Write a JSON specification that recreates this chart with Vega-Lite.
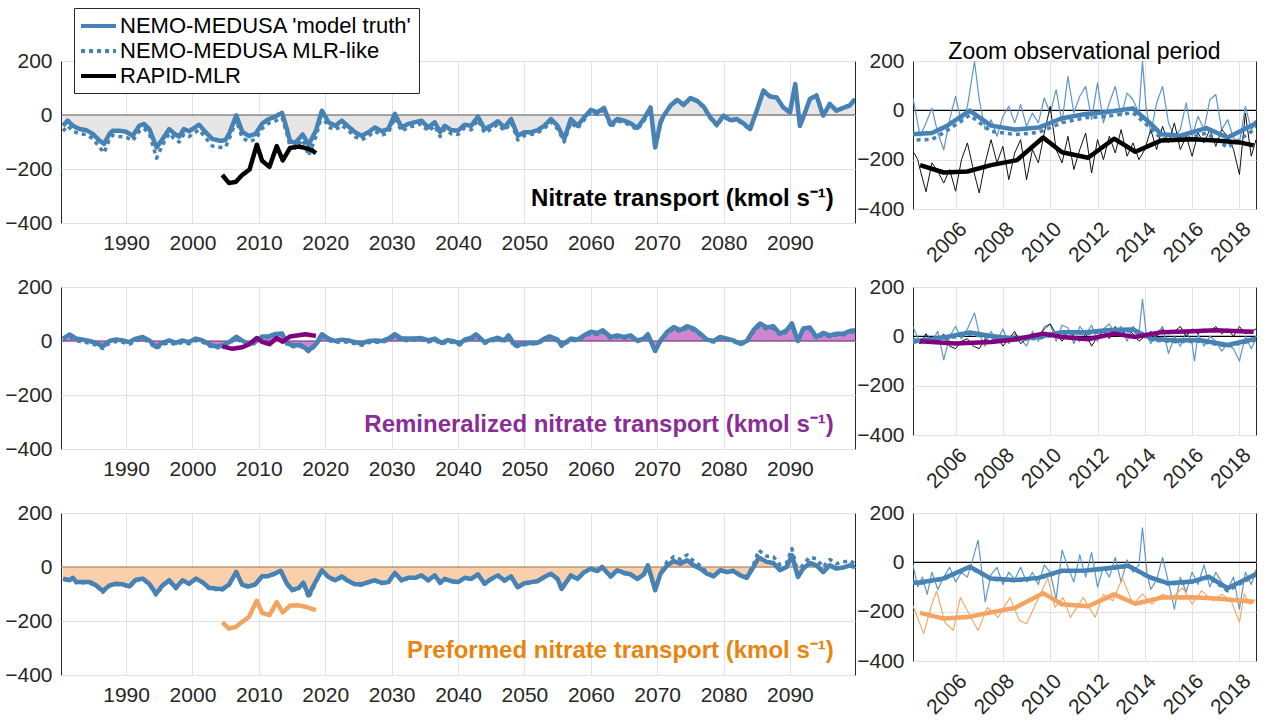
{
"$schema": "https://vega.github.io/schema/vega-lite/v6.json",
"padding": {"left": 4, "top": 7, "right": 4, "bottom": 4},
"background": "white",
"config": {
  "font": "Liberation Sans",
  "view": {"stroke": "#262626", "strokeWidth": 1},
  "axis": {"labelFontSize": 21, "labelColor": "#262626", "ticks": false, "domain": false, "gridColor": "#e2e2e2", "gridWidth": 1, "labelPadding": 9},
  "line": {"strokeCap": "butt", "strokeJoin": "round"}
},
"datasets": {
"N": [
{"s":"truth","t":1980.5,"v":-40},{"s":"truth","t":1981.2,"v":-21},{"s":"truth","t":1982,"v":-40},{"s":"truth","t":1983,"v":-52},{"s":"truth","t":1984,"v":-56},{"s":"truth","t":1985,"v":-70},{"s":"truth","t":1986,"v":-95},{"s":"truth","t":1986.7,"v":-107},{"s":"truth","t":1987.5,"v":-70},{"s":"truth","t":1988,"v":-58},{"s":"truth","t":1989,"v":-58},{"s":"truth","t":1990,"v":-62},{"s":"truth","t":1991,"v":-77},{"s":"truth","t":1992,"v":-40},{"s":"truth","t":1992.7,"v":-33},{"s":"truth","t":1993.5,"v":-52},{"s":"truth","t":1994,"v":-83},{"s":"truth","t":1994.6,"v":-120},{"s":"truth","t":1995.5,"v":-89},{"s":"truth","t":1996.5,"v":-52},{"s":"truth","t":1997.3,"v":-70},{"s":"truth","t":1998,"v":-80},{"s":"truth","t":1998.7,"v":-52},{"s":"truth","t":1999.5,"v":-60},{"s":"truth","t":2000,"v":-52},{"s":"truth","t":2001,"v":-36},{"s":"truth","t":2002,"v":-64},{"s":"truth","t":2003,"v":-89},{"s":"truth","t":2004.3,"v":-96},{"s":"truth","t":2005,"v":-92},{"s":"truth","t":2005.6,"v":-65},{"s":"truth","t":2006.6,"v":-1},{"s":"truth","t":2007.5,"v":-62},{"s":"truth","t":2008.5,"v":-78},{"s":"truth","t":2009.5,"v":-70},{"s":"truth","t":2010.5,"v":-32},{"s":"truth","t":2011.5,"v":-15},{"s":"truth","t":2012.3,"v":-8},{"s":"truth","t":2013.5,"v":8},{"s":"truth","t":2014.2,"v":-50},{"s":"truth","t":2014.7,"v":-97},{"s":"truth","t":2015.5,"v":-103},{"s":"truth","t":2016.6,"v":-72},{"s":"truth","t":2017.5,"v":-110},{"s":"truth","t":2018.6,"v":-58},{"s":"truth","t":2019.5,"v":16},{"s":"truth","t":2020.5,"v":-27},{"s":"truth","t":2021.5,"v":-40},{"s":"truth","t":2022.5,"v":-21},{"s":"truth","t":2023.5,"v":-43},{"s":"truth","t":2024.5,"v":-64},{"s":"truth","t":2025.5,"v":-77},{"s":"truth","t":2026.5,"v":-64},{"s":"truth","t":2027.5,"v":-46},{"s":"truth","t":2028.5,"v":-60},{"s":"truth","t":2029.5,"v":-52},{"s":"truth","t":2030.5,"v":4},{"s":"truth","t":2031.5,"v":-46},{"s":"truth","t":2032.5,"v":-33},{"s":"truth","t":2033.5,"v":-27},{"s":"truth","t":2034.5,"v":-21},{"s":"truth","t":2035.5,"v":-46},{"s":"truth","t":2036.5,"v":-27},{"s":"truth","t":2037.3,"v":-64},{"s":"truth","t":2038,"v":-40},{"s":"truth","t":2039,"v":-56},{"s":"truth","t":2040,"v":-58},{"s":"truth","t":2041,"v":-36},{"s":"truth","t":2042,"v":-40},{"s":"truth","t":2043,"v":-6},{"s":"truth","t":2044,"v":-52},{"s":"truth","t":2045,"v":-40},{"s":"truth","t":2046,"v":-23},{"s":"truth","t":2047,"v":-46},{"s":"truth","t":2048,"v":-15},{"s":"truth","t":2049,"v":-77},{"s":"truth","t":2050,"v":-64},{"s":"truth","t":2051,"v":-64},{"s":"truth","t":2052,"v":-56},{"s":"truth","t":2053,"v":-40},{"s":"truth","t":2054,"v":-15},{"s":"truth","t":2055,"v":-40},{"s":"truth","t":2056,"v":-89},{"s":"truth","t":2057,"v":-15},{"s":"truth","t":2058,"v":-40},{"s":"truth","t":2059,"v":-9},{"s":"truth","t":2060,"v":19},{"s":"truth","t":2061,"v":10},{"s":"truth","t":2062,"v":26},{"s":"truth","t":2063,"v":-36},{"s":"truth","t":2064,"v":-15},{"s":"truth","t":2065,"v":-21},{"s":"truth","t":2066,"v":-31},{"s":"truth","t":2067,"v":-48},{"s":"truth","t":2068,"v":-15},{"s":"truth","t":2069,"v":28},{"s":"truth","t":2069.7,"v":-120},{"s":"truth","t":2070.5,"v":-27},{"s":"truth","t":2071,"v":-2},{"s":"truth","t":2072,"v":35},{"s":"truth","t":2073,"v":56},{"s":"truth","t":2074,"v":38},{"s":"truth","t":2075,"v":63},{"s":"truth","t":2076,"v":53},{"s":"truth","t":2077,"v":31},{"s":"truth","t":2078,"v":-9},{"s":"truth","t":2079,"v":-36},{"s":"truth","t":2080,"v":-2},{"s":"truth","t":2081,"v":-19},{"s":"truth","t":2082,"v":-15},{"s":"truth","t":2083,"v":-31},{"s":"truth","t":2084,"v":-52},{"s":"truth","t":2085,"v":16},{"s":"truth","t":2086,"v":90},{"s":"truth","t":2087,"v":68},{"s":"truth","t":2088,"v":65},{"s":"truth","t":2089,"v":28},{"s":"truth","t":2090,"v":10},{"s":"truth","t":2090.8,"v":115},{"s":"truth","t":2091.5,"v":-40},{"s":"truth","t":2092,"v":-9},{"s":"truth","t":2093,"v":59},{"s":"truth","t":2094,"v":72},{"s":"truth","t":2095,"v":-2},{"s":"truth","t":2096,"v":41},{"s":"truth","t":2097,"v":16},{"s":"truth","t":2098,"v":26},{"s":"truth","t":2099,"v":35},{"s":"truth","t":2099.8,"v":59},
{"s":"mlr","t":1980.5,"v":-60},{"s":"mlr","t":1981.2,"v":-40},{"s":"mlr","t":1982,"v":-60},{"s":"mlr","t":1983,"v":-70},{"s":"mlr","t":1984,"v":-72},{"s":"mlr","t":1985,"v":-88},{"s":"mlr","t":1986,"v":-120},{"s":"mlr","t":1986.7,"v":-140},{"s":"mlr","t":1987.5,"v":-90},{"s":"mlr","t":1988,"v":-75},{"s":"mlr","t":1989,"v":-80},{"s":"mlr","t":1990,"v":-82},{"s":"mlr","t":1991,"v":-95},{"s":"mlr","t":1992,"v":-60},{"s":"mlr","t":1992.7,"v":-50},{"s":"mlr","t":1993.5,"v":-70},{"s":"mlr","t":1994,"v":-110},{"s":"mlr","t":1994.6,"v":-160},{"s":"mlr","t":1995.5,"v":-110},{"s":"mlr","t":1996.5,"v":-68},{"s":"mlr","t":1997.3,"v":-90},{"s":"mlr","t":1998,"v":-100},{"s":"mlr","t":1998.7,"v":-72},{"s":"mlr","t":1999.5,"v":-80},{"s":"mlr","t":2000,"v":-70},{"s":"mlr","t":2001,"v":-55},{"s":"mlr","t":2002,"v":-85},{"s":"mlr","t":2003,"v":-115},{"s":"mlr","t":2004.3,"v":-120},{"s":"mlr","t":2005,"v":-118},{"s":"mlr","t":2005.6,"v":-85},{"s":"mlr","t":2006.6,"v":-20},{"s":"mlr","t":2007.5,"v":-85},{"s":"mlr","t":2008.5,"v":-98},{"s":"mlr","t":2009.5,"v":-90},{"s":"mlr","t":2010.5,"v":-50},{"s":"mlr","t":2011.5,"v":-30},{"s":"mlr","t":2012.3,"v":-25},{"s":"mlr","t":2013.5,"v":-10},{"s":"mlr","t":2014.2,"v":-68},{"s":"mlr","t":2014.7,"v":-115},{"s":"mlr","t":2015.5,"v":-122},{"s":"mlr","t":2016.6,"v":-92},{"s":"mlr","t":2017.5,"v":-150},{"s":"mlr","t":2018.6,"v":-80},{"s":"mlr","t":2019.5,"v":0},{"s":"mlr","t":2020.5,"v":-45},{"s":"mlr","t":2021.5,"v":-55},{"s":"mlr","t":2022.5,"v":-38},{"s":"mlr","t":2023.5,"v":-58},{"s":"mlr","t":2024.5,"v":-80},{"s":"mlr","t":2025.5,"v":-92},{"s":"mlr","t":2026.5,"v":-78},{"s":"mlr","t":2027.5,"v":-60},{"s":"mlr","t":2028.5,"v":-75},{"s":"mlr","t":2029.5,"v":-66},{"s":"mlr","t":2030.5,"v":-10},{"s":"mlr","t":2031.5,"v":-60},{"s":"mlr","t":2032.5,"v":-45},{"s":"mlr","t":2033.5,"v":-40},{"s":"mlr","t":2034.5,"v":-33},{"s":"mlr","t":2035.5,"v":-60},{"s":"mlr","t":2036.5,"v":-40},{"s":"mlr","t":2037.3,"v":-80},{"s":"mlr","t":2038,"v":-52},{"s":"mlr","t":2039,"v":-70},{"s":"mlr","t":2040,"v":-72},{"s":"mlr","t":2041,"v":-48},{"s":"mlr","t":2042,"v":-55},{"s":"mlr","t":2043,"v":-18},{"s":"mlr","t":2044,"v":-66},{"s":"mlr","t":2045,"v":-52},{"s":"mlr","t":2046,"v":-35},{"s":"mlr","t":2047,"v":-58},{"s":"mlr","t":2048,"v":-28},{"s":"mlr","t":2049,"v":-92},{"s":"mlr","t":2050,"v":-76},{"s":"mlr","t":2051,"v":-72},{"s":"mlr","t":2052,"v":-66},{"s":"mlr","t":2053,"v":-50},{"s":"mlr","t":2054,"v":-25},{"s":"mlr","t":2055,"v":-52},{"s":"mlr","t":2056,"v":-100},{"s":"mlr","t":2057,"v":-28},{"s":"mlr","t":2058,"v":-50},{"s":"mlr","t":2059,"v":-18},{"s":"mlr","t":2060,"v":12},{"s":"mlr","t":2061,"v":2},{"s":"mlr","t":2062,"v":20},{"s":"mlr","t":2063,"v":-45},{"s":"mlr","t":2064,"v":-22},{"s":"mlr","t":2065,"v":-28},{"s":"mlr","t":2066,"v":-38},{"s":"mlr","t":2067,"v":-55},{"s":"mlr","t":2068,"v":-22},{"s":"mlr","t":2069,"v":20},{"s":"mlr","t":2069.7,"v":-125},{"s":"mlr","t":2070.5,"v":-32},{"s":"mlr","t":2071,"v":-6},{"s":"mlr","t":2072,"v":32},{"s":"mlr","t":2073,"v":52},{"s":"mlr","t":2074,"v":35},{"s":"mlr","t":2075,"v":60},{"s":"mlr","t":2076,"v":50},{"s":"mlr","t":2077,"v":28},{"s":"mlr","t":2078,"v":-12},{"s":"mlr","t":2079,"v":-40},{"s":"mlr","t":2080,"v":-6},{"s":"mlr","t":2081,"v":-22},{"s":"mlr","t":2082,"v":-18},{"s":"mlr","t":2083,"v":-35},{"s":"mlr","t":2084,"v":-55},{"s":"mlr","t":2085,"v":15},{"s":"mlr","t":2086,"v":92},{"s":"mlr","t":2087,"v":70},{"s":"mlr","t":2088,"v":66},{"s":"mlr","t":2089,"v":26},{"s":"mlr","t":2090,"v":8},{"s":"mlr","t":2090.8,"v":112},{"s":"mlr","t":2091.5,"v":-42},{"s":"mlr","t":2092,"v":-12},{"s":"mlr","t":2093,"v":60},{"s":"mlr","t":2094,"v":75},{"s":"mlr","t":2095,"v":-5},{"s":"mlr","t":2096,"v":40},{"s":"mlr","t":2097,"v":18},{"s":"mlr","t":2098,"v":28},{"s":"mlr","t":2099,"v":36},{"s":"mlr","t":2099.8,"v":60},
{"s":"rapid","t":2004.5,"v":-222},{"s":"rapid","t":2005.5,"v":-252},{"s":"rapid","t":2006.5,"v":-248},{"s":"rapid","t":2007.5,"v":-222},{"s":"rapid","t":2008.6,"v":-202},{"s":"rapid","t":2009.7,"v":-110},{"s":"rapid","t":2010.5,"v":-170},{"s":"rapid","t":2011.6,"v":-192},{"s":"rapid","t":2012.7,"v":-115},{"s":"rapid","t":2013.6,"v":-168},{"s":"rapid","t":2014.7,"v":-122},{"s":"rapid","t":2016,"v":-117},{"s":"rapid","t":2017,"v":-122},{"s":"rapid","t":2018,"v":-130},{"s":"rapid","t":2018.6,"v":-142}
],
"R": [
{"s":"truth","t":1980.5,"v":9},{"s":"truth","t":1981.5,"v":24},{"s":"truth","t":1982.5,"v":9},{"s":"truth","t":1983.5,"v":5},{"s":"truth","t":1984.5,"v":0},{"s":"truth","t":1985.5,"v":-7},{"s":"truth","t":1986.5,"v":-20},{"s":"truth","t":1987.5,"v":0},{"s":"truth","t":1988.5,"v":6},{"s":"truth","t":1989.5,"v":2},{"s":"truth","t":1990.5,"v":-4},{"s":"truth","t":1991.5,"v":9},{"s":"truth","t":1992.5,"v":15},{"s":"truth","t":1993.5,"v":2},{"s":"truth","t":1994.5,"v":-22},{"s":"truth","t":1995.5,"v":-7},{"s":"truth","t":1996.5,"v":2},{"s":"truth","t":1997.5,"v":-7},{"s":"truth","t":1998.5,"v":2},{"s":"truth","t":1999.5,"v":-4},{"s":"truth","t":2000.5,"v":9},{"s":"truth","t":2001.5,"v":2},{"s":"truth","t":2002.5,"v":-12},{"s":"truth","t":2003.5,"v":-20},{"s":"truth","t":2004.5,"v":-17},{"s":"truth","t":2005.5,"v":-5},{"s":"truth","t":2006.6,"v":16},{"s":"truth","t":2007.5,"v":1},{"s":"truth","t":2008.5,"v":-10},{"s":"truth","t":2009.5,"v":-3},{"s":"truth","t":2010.5,"v":17},{"s":"truth","t":2011.5,"v":17},{"s":"truth","t":2012.5,"v":26},{"s":"truth","t":2013.5,"v":28},{"s":"truth","t":2014.3,"v":-10},{"s":"truth","t":2015.3,"v":-17},{"s":"truth","t":2016.3,"v":-15},{"s":"truth","t":2017.5,"v":-35},{"s":"truth","t":2018.6,"v":-12},{"s":"truth","t":2019.5,"v":25},{"s":"truth","t":2020.5,"v":9},{"s":"truth","t":2021.5,"v":0},{"s":"truth","t":2022.5,"v":5},{"s":"truth","t":2023.5,"v":2},{"s":"truth","t":2024.5,"v":-4},{"s":"truth","t":2025.5,"v":-10},{"s":"truth","t":2026.5,"v":0},{"s":"truth","t":2027.5,"v":2},{"s":"truth","t":2028.5,"v":0},{"s":"truth","t":2029.5,"v":9},{"s":"truth","t":2030.5,"v":25},{"s":"truth","t":2031.5,"v":9},{"s":"truth","t":2032.5,"v":9},{"s":"truth","t":2033.5,"v":9},{"s":"truth","t":2034.5,"v":11},{"s":"truth","t":2035.5,"v":2},{"s":"truth","t":2036.5,"v":9},{"s":"truth","t":2037.5,"v":-7},{"s":"truth","t":2038.5,"v":3},{"s":"truth","t":2039.5,"v":-2},{"s":"truth","t":2040.3,"v":-10},{"s":"truth","t":2041,"v":5},{"s":"truth","t":2042,"v":12},{"s":"truth","t":2042.7,"v":25},{"s":"truth","t":2044,"v":-4},{"s":"truth","t":2045,"v":5},{"s":"truth","t":2046,"v":12},{"s":"truth","t":2047,"v":2},{"s":"truth","t":2047.6,"v":21},{"s":"truth","t":2048.6,"v":-16},{"s":"truth","t":2050,"v":-10},{"s":"truth","t":2051,"v":-7},{"s":"truth","t":2052,"v":-7},{"s":"truth","t":2053,"v":9},{"s":"truth","t":2053.8,"v":17},{"s":"truth","t":2055,"v":5},{"s":"truth","t":2055.6,"v":-16},{"s":"truth","t":2057,"v":9},{"s":"truth","t":2058,"v":5},{"s":"truth","t":2059,"v":21},{"s":"truth","t":2060,"v":34},{"s":"truth","t":2061,"v":30},{"s":"truth","t":2061.8,"v":40},{"s":"truth","t":2063,"v":15},{"s":"truth","t":2064,"v":21},{"s":"truth","t":2065,"v":15},{"s":"truth","t":2066,"v":21},{"s":"truth","t":2067,"v":2},{"s":"truth","t":2068,"v":9},{"s":"truth","t":2068.6,"v":25},{"s":"truth","t":2069.7,"v":-37},{"s":"truth","t":2070.5,"v":2},{"s":"truth","t":2071.5,"v":34},{"s":"truth","t":2072.5,"v":52},{"s":"truth","t":2073.5,"v":40},{"s":"truth","t":2074.5,"v":55},{"s":"truth","t":2075.5,"v":46},{"s":"truth","t":2076.5,"v":27},{"s":"truth","t":2077.5,"v":5},{"s":"truth","t":2078.5,"v":0},{"s":"truth","t":2079.5,"v":15},{"s":"truth","t":2080.5,"v":9},{"s":"truth","t":2081.5,"v":2},{"s":"truth","t":2082.5,"v":-10},{"s":"truth","t":2083.5,"v":0},{"s":"truth","t":2084.5,"v":40},{"s":"truth","t":2085.5,"v":65},{"s":"truth","t":2086.5,"v":50},{"s":"truth","t":2087.5,"v":55},{"s":"truth","t":2088.5,"v":27},{"s":"truth","t":2089.5,"v":40},{"s":"truth","t":2090.3,"v":65},{"s":"truth","t":2091.2,"v":0},{"s":"truth","t":2092,"v":46},{"s":"truth","t":2093,"v":50},{"s":"truth","t":2094,"v":15},{"s":"truth","t":2095,"v":30},{"s":"truth","t":2096,"v":21},{"s":"truth","t":2097,"v":27},{"s":"truth","t":2098,"v":27},{"s":"truth","t":2099,"v":37},{"s":"truth","t":2099.8,"v":40},
{"s":"mlr","t":1980.5,"v":2},{"s":"mlr","t":1981.5,"v":15},{"s":"mlr","t":1982.5,"v":0},{"s":"mlr","t":1983.5,"v":-3},{"s":"mlr","t":1984.5,"v":-8},{"s":"mlr","t":1985.5,"v":-15},{"s":"mlr","t":1986.5,"v":-28},{"s":"mlr","t":1987.5,"v":-8},{"s":"mlr","t":1988.5,"v":-2},{"s":"mlr","t":1989.5,"v":-5},{"s":"mlr","t":1990.5,"v":-12},{"s":"mlr","t":1991.5,"v":0},{"s":"mlr","t":1992.5,"v":8},{"s":"mlr","t":1993.5,"v":-5},{"s":"mlr","t":1994.5,"v":-28},{"s":"mlr","t":1995.5,"v":-14},{"s":"mlr","t":1996.5,"v":-5},{"s":"mlr","t":1997.5,"v":-14},{"s":"mlr","t":1998.5,"v":-5},{"s":"mlr","t":1999.5,"v":-10},{"s":"mlr","t":2000.5,"v":2},{"s":"mlr","t":2001.5,"v":-4},{"s":"mlr","t":2002.5,"v":-18},{"s":"mlr","t":2003.5,"v":-26},{"s":"mlr","t":2004.5,"v":-22},{"s":"mlr","t":2005.5,"v":-10},{"s":"mlr","t":2006.6,"v":10},{"s":"mlr","t":2007.5,"v":-6},{"s":"mlr","t":2008.5,"v":-15},{"s":"mlr","t":2009.5,"v":-8},{"s":"mlr","t":2010.5,"v":12},{"s":"mlr","t":2011.5,"v":12},{"s":"mlr","t":2012.5,"v":20},{"s":"mlr","t":2013.5,"v":22},{"s":"mlr","t":2014.3,"v":-15},{"s":"mlr","t":2015.3,"v":-22},{"s":"mlr","t":2016.3,"v":-20},{"s":"mlr","t":2017.5,"v":-40},{"s":"mlr","t":2018.6,"v":-16},{"s":"mlr","t":2019.5,"v":18},{"s":"mlr","t":2020.5,"v":2},{"s":"mlr","t":2021.5,"v":-6},{"s":"mlr","t":2022.5,"v":-2},{"s":"mlr","t":2023.5,"v":-5},{"s":"mlr","t":2024.5,"v":-10},{"s":"mlr","t":2025.5,"v":-16},{"s":"mlr","t":2026.5,"v":-6},{"s":"mlr","t":2027.5,"v":-4},{"s":"mlr","t":2028.5,"v":-6},{"s":"mlr","t":2029.5,"v":2},{"s":"mlr","t":2030.5,"v":18},{"s":"mlr","t":2031.5,"v":2},{"s":"mlr","t":2032.5,"v":2},{"s":"mlr","t":2033.5,"v":3},{"s":"mlr","t":2034.5,"v":5},{"s":"mlr","t":2035.5,"v":-4},{"s":"mlr","t":2036.5,"v":3},{"s":"mlr","t":2037.5,"v":-12},{"s":"mlr","t":2038.5,"v":-2},{"s":"mlr","t":2039.5,"v":-7},{"s":"mlr","t":2040.3,"v":-15},{"s":"mlr","t":2041,"v":0},{"s":"mlr","t":2042,"v":6},{"s":"mlr","t":2042.7,"v":18},{"s":"mlr","t":2044,"v":-9},{"s":"mlr","t":2045,"v":0},{"s":"mlr","t":2046,"v":6},{"s":"mlr","t":2047,"v":-3},{"s":"mlr","t":2047.6,"v":14},{"s":"mlr","t":2048.6,"v":-22},{"s":"mlr","t":2050,"v":-14},{"s":"mlr","t":2051,"v":-10},{"s":"mlr","t":2052,"v":-10},{"s":"mlr","t":2053,"v":4},{"s":"mlr","t":2053.8,"v":12},{"s":"mlr","t":2055,"v":0},{"s":"mlr","t":2055.6,"v":-20},{"s":"mlr","t":2057,"v":4},{"s":"mlr","t":2058,"v":0},{"s":"mlr","t":2059,"v":16},{"s":"mlr","t":2060,"v":28},{"s":"mlr","t":2061,"v":24},{"s":"mlr","t":2061.8,"v":34},{"s":"mlr","t":2063,"v":10},{"s":"mlr","t":2064,"v":16},{"s":"mlr","t":2065,"v":10},{"s":"mlr","t":2066,"v":16},{"s":"mlr","t":2067,"v":-2},{"s":"mlr","t":2068,"v":4},{"s":"mlr","t":2068.6,"v":20},{"s":"mlr","t":2069.7,"v":-40},{"s":"mlr","t":2070.5,"v":-2},{"s":"mlr","t":2071.5,"v":28},{"s":"mlr","t":2072.5,"v":46},{"s":"mlr","t":2073.5,"v":34},{"s":"mlr","t":2074.5,"v":48},{"s":"mlr","t":2075.5,"v":40},{"s":"mlr","t":2076.5,"v":22},{"s":"mlr","t":2077.5,"v":0},{"s":"mlr","t":2078.5,"v":-4},{"s":"mlr","t":2079.5,"v":10},{"s":"mlr","t":2080.5,"v":4},{"s":"mlr","t":2081.5,"v":-2},{"s":"mlr","t":2082.5,"v":-14},{"s":"mlr","t":2083.5,"v":-4},{"s":"mlr","t":2084.5,"v":34},{"s":"mlr","t":2085.5,"v":58},{"s":"mlr","t":2086.5,"v":44},{"s":"mlr","t":2087.5,"v":48},{"s":"mlr","t":2088.5,"v":22},{"s":"mlr","t":2089.5,"v":34},{"s":"mlr","t":2090.3,"v":58},{"s":"mlr","t":2091.2,"v":-4},{"s":"mlr","t":2092,"v":40},{"s":"mlr","t":2093,"v":44},{"s":"mlr","t":2094,"v":10},{"s":"mlr","t":2095,"v":24},{"s":"mlr","t":2096,"v":16},{"s":"mlr","t":2097,"v":22},{"s":"mlr","t":2098,"v":22},{"s":"mlr","t":2099,"v":32},{"s":"mlr","t":2099.8,"v":34},
{"s":"rapid","t":2004.5,"v":-20},{"s":"rapid","t":2006,"v":-29},{"s":"rapid","t":2007.5,"v":-23},{"s":"rapid","t":2008.5,"v":-13},{"s":"rapid","t":2009.7,"v":11},{"s":"rapid","t":2010.5,"v":-3},{"s":"rapid","t":2011.6,"v":-12},{"s":"rapid","t":2012.7,"v":11},{"s":"rapid","t":2013.6,"v":-3},{"s":"rapid","t":2014.7,"v":17},{"s":"rapid","t":2016,"v":21},{"s":"rapid","t":2017,"v":25},{"s":"rapid","t":2018,"v":21},{"s":"rapid","t":2018.6,"v":19}
],
"P": [
{"s":"truth","t":1980.5,"v":-43},{"s":"truth","t":1981.5,"v":-49},{"s":"truth","t":1982,"v":-40},{"s":"truth","t":1982.5,"v":-56},{"s":"truth","t":1983.5,"v":-56},{"s":"truth","t":1984.5,"v":-56},{"s":"truth","t":1985.5,"v":-68},{"s":"truth","t":1986.5,"v":-89},{"s":"truth","t":1987.5,"v":-68},{"s":"truth","t":1988.5,"v":-62},{"s":"truth","t":1989.5,"v":-64},{"s":"truth","t":1990.5,"v":-72},{"s":"truth","t":1991.5,"v":-47},{"s":"truth","t":1992.5,"v":-43},{"s":"truth","t":1993.5,"v":-62},{"s":"truth","t":1994.5,"v":-99},{"s":"truth","t":1995.5,"v":-68},{"s":"truth","t":1996.5,"v":-49},{"s":"truth","t":1997.5,"v":-77},{"s":"truth","t":1998.5,"v":-49},{"s":"truth","t":1999.5,"v":-62},{"s":"truth","t":2000.5,"v":-43},{"s":"truth","t":2001.5,"v":-56},{"s":"truth","t":2002.5,"v":-77},{"s":"truth","t":2003.5,"v":-80},{"s":"truth","t":2004.5,"v":-82},{"s":"truth","t":2005.5,"v":-65},{"s":"truth","t":2006.6,"v":-18},{"s":"truth","t":2007.5,"v":-66},{"s":"truth","t":2008.5,"v":-72},{"s":"truth","t":2009.5,"v":-63},{"s":"truth","t":2010.5,"v":-34},{"s":"truth","t":2011.5,"v":-33},{"s":"truth","t":2012.5,"v":-23},{"s":"truth","t":2013.3,"v":-14},{"s":"truth","t":2014.2,"v":-60},{"s":"truth","t":2015,"v":-85},{"s":"truth","t":2016,"v":-78},{"s":"truth","t":2016.7,"v":-58},{"s":"truth","t":2017.5,"v":-105},{"s":"truth","t":2018.6,"v":-52},{"s":"truth","t":2019.5,"v":-12},{"s":"truth","t":2020.5,"v":-37},{"s":"truth","t":2021.5,"v":-49},{"s":"truth","t":2022.5,"v":-35},{"s":"truth","t":2023.5,"v":-52},{"s":"truth","t":2024.5,"v":-64},{"s":"truth","t":2025.5,"v":-64},{"s":"truth","t":2026.5,"v":-56},{"s":"truth","t":2027.5,"v":-49},{"s":"truth","t":2028.5,"v":-59},{"s":"truth","t":2029.5,"v":-56},{"s":"truth","t":2030.5,"v":-22},{"s":"truth","t":2031.5,"v":-49},{"s":"truth","t":2032.5,"v":-40},{"s":"truth","t":2033.5,"v":-40},{"s":"truth","t":2034.5,"v":-31},{"s":"truth","t":2035.5,"v":-49},{"s":"truth","t":2036.5,"v":-31},{"s":"truth","t":2037.3,"v":-58},{"s":"truth","t":2038,"v":-44},{"s":"truth","t":2039,"v":-52},{"s":"truth","t":2040,"v":-56},{"s":"truth","t":2041,"v":-40},{"s":"truth","t":2042,"v":-44},{"s":"truth","t":2043,"v":-27},{"s":"truth","t":2044,"v":-62},{"s":"truth","t":2045,"v":-44},{"s":"truth","t":2046,"v":-31},{"s":"truth","t":2047,"v":-50},{"s":"truth","t":2048,"v":-35},{"s":"truth","t":2049,"v":-75},{"s":"truth","t":2050,"v":-60},{"s":"truth","t":2051,"v":-56},{"s":"truth","t":2052,"v":-52},{"s":"truth","t":2053,"v":-37},{"s":"truth","t":2054,"v":-25},{"s":"truth","t":2055,"v":-44},{"s":"truth","t":2055.6,"v":-81},{"s":"truth","t":2057,"v":-31},{"s":"truth","t":2058,"v":-44},{"s":"truth","t":2059,"v":-19},{"s":"truth","t":2060,"v":-6},{"s":"truth","t":2061,"v":-15},{"s":"truth","t":2061.7,"v":0},{"s":"truth","t":2063,"v":-35},{"s":"truth","t":2064,"v":-12},{"s":"truth","t":2065,"v":-22},{"s":"truth","t":2066,"v":-27},{"s":"truth","t":2067,"v":-44},{"s":"truth","t":2068,"v":-27},{"s":"truth","t":2068.6,"v":6},{"s":"truth","t":2069.7,"v":-85},{"s":"truth","t":2070.5,"v":-25},{"s":"truth","t":2071.5,"v":6},{"s":"truth","t":2072.5,"v":22},{"s":"truth","t":2073.5,"v":12},{"s":"truth","t":2074.5,"v":25},{"s":"truth","t":2075.5,"v":6},{"s":"truth","t":2076.5,"v":-6},{"s":"truth","t":2077.5,"v":-25},{"s":"truth","t":2078.5,"v":-35},{"s":"truth","t":2079.5,"v":-12},{"s":"truth","t":2080.5,"v":-19},{"s":"truth","t":2081.5,"v":-15},{"s":"truth","t":2082.5,"v":-31},{"s":"truth","t":2083.5,"v":-40},{"s":"truth","t":2084.5,"v":0},{"s":"truth","t":2085.3,"v":35},{"s":"truth","t":2086.5,"v":19},{"s":"truth","t":2087.5,"v":15},{"s":"truth","t":2088.5,"v":-12},{"s":"truth","t":2089.5,"v":0},{"s":"truth","t":2090.3,"v":44},{"s":"truth","t":2091.2,"v":-37},{"s":"truth","t":2092,"v":-6},{"s":"truth","t":2093,"v":15},{"s":"truth","t":2094,"v":6},{"s":"truth","t":2095,"v":-19},{"s":"truth","t":2096,"v":6},{"s":"truth","t":2097,"v":-6},{"s":"truth","t":2098,"v":-2},{"s":"truth","t":2099,"v":6},{"s":"truth","t":2099.8,"v":0},
{"s":"mlr","t":1980.5,"v":-46},{"s":"mlr","t":1981.5,"v":-52},{"s":"mlr","t":1982,"v":-36},{"s":"mlr","t":1982.5,"v":-58},{"s":"mlr","t":1983.5,"v":-58},{"s":"mlr","t":1984.5,"v":-59},{"s":"mlr","t":1985.5,"v":-71},{"s":"mlr","t":1986.5,"v":-93},{"s":"mlr","t":1987.5,"v":-70},{"s":"mlr","t":1988.5,"v":-65},{"s":"mlr","t":1989.5,"v":-66},{"s":"mlr","t":1990.5,"v":-75},{"s":"mlr","t":1991.5,"v":-50},{"s":"mlr","t":1992.5,"v":-45},{"s":"mlr","t":1993.5,"v":-65},{"s":"mlr","t":1994.5,"v":-104},{"s":"mlr","t":1995.5,"v":-70},{"s":"mlr","t":1996.5,"v":-52},{"s":"mlr","t":1997.5,"v":-80},{"s":"mlr","t":1998.5,"v":-52},{"s":"mlr","t":1999.5,"v":-64},{"s":"mlr","t":2000.5,"v":-46},{"s":"mlr","t":2001.5,"v":-58},{"s":"mlr","t":2002.5,"v":-80},{"s":"mlr","t":2003.5,"v":-83},{"s":"mlr","t":2004.5,"v":-85},{"s":"mlr","t":2005.5,"v":-68},{"s":"mlr","t":2006.6,"v":-20},{"s":"mlr","t":2007.5,"v":-69},{"s":"mlr","t":2008.5,"v":-75},{"s":"mlr","t":2009.5,"v":-66},{"s":"mlr","t":2010.5,"v":-37},{"s":"mlr","t":2011.5,"v":-35},{"s":"mlr","t":2012.5,"v":-26},{"s":"mlr","t":2013.3,"v":-16},{"s":"mlr","t":2014.2,"v":-63},{"s":"mlr","t":2015,"v":-88},{"s":"mlr","t":2016,"v":-80},{"s":"mlr","t":2016.7,"v":-61},{"s":"mlr","t":2017.5,"v":-115},{"s":"mlr","t":2018.6,"v":-56},{"s":"mlr","t":2019.5,"v":-14},{"s":"mlr","t":2020.5,"v":-40},{"s":"mlr","t":2021.5,"v":-52},{"s":"mlr","t":2022.5,"v":-37},{"s":"mlr","t":2023.5,"v":-55},{"s":"mlr","t":2024.5,"v":-66},{"s":"mlr","t":2025.5,"v":-67},{"s":"mlr","t":2026.5,"v":-58},{"s":"mlr","t":2027.5,"v":-52},{"s":"mlr","t":2028.5,"v":-61},{"s":"mlr","t":2029.5,"v":-58},{"s":"mlr","t":2030.5,"v":-25},{"s":"mlr","t":2031.5,"v":-52},{"s":"mlr","t":2032.5,"v":-42},{"s":"mlr","t":2033.5,"v":-42},{"s":"mlr","t":2034.5,"v":-33},{"s":"mlr","t":2035.5,"v":-52},{"s":"mlr","t":2036.5,"v":-33},{"s":"mlr","t":2037.3,"v":-61},{"s":"mlr","t":2038,"v":-46},{"s":"mlr","t":2039,"v":-55},{"s":"mlr","t":2040,"v":-58},{"s":"mlr","t":2041,"v":-42},{"s":"mlr","t":2042,"v":-46},{"s":"mlr","t":2043,"v":-29},{"s":"mlr","t":2044,"v":-64},{"s":"mlr","t":2045,"v":-46},{"s":"mlr","t":2046,"v":-33},{"s":"mlr","t":2047,"v":-52},{"s":"mlr","t":2048,"v":-37},{"s":"mlr","t":2049,"v":-78},{"s":"mlr","t":2050,"v":-62},{"s":"mlr","t":2051,"v":-58},{"s":"mlr","t":2052,"v":-54},{"s":"mlr","t":2053,"v":-39},{"s":"mlr","t":2054,"v":-27},{"s":"mlr","t":2055,"v":-46},{"s":"mlr","t":2055.6,"v":-84},{"s":"mlr","t":2057,"v":-33},{"s":"mlr","t":2058,"v":-46},{"s":"mlr","t":2059,"v":-21},{"s":"mlr","t":2060,"v":-8},{"s":"mlr","t":2061,"v":-17},{"s":"mlr","t":2061.7,"v":-2},{"s":"mlr","t":2063,"v":-37},{"s":"mlr","t":2064,"v":-14},{"s":"mlr","t":2065,"v":-24},{"s":"mlr","t":2066,"v":-29},{"s":"mlr","t":2067,"v":-46},{"s":"mlr","t":2068,"v":-29},{"s":"mlr","t":2068.6,"v":4},{"s":"mlr","t":2069.7,"v":-88},{"s":"mlr","t":2070.5,"v":-22},{"s":"mlr","t":2071.5,"v":20},{"s":"mlr","t":2072.5,"v":38},{"s":"mlr","t":2073.5,"v":28},{"s":"mlr","t":2074.5,"v":45},{"s":"mlr","t":2075.5,"v":22},{"s":"mlr","t":2076.5,"v":5},{"s":"mlr","t":2077.5,"v":-20},{"s":"mlr","t":2078.5,"v":-33},{"s":"mlr","t":2079.5,"v":-10},{"s":"mlr","t":2080.5,"v":-17},{"s":"mlr","t":2081.5,"v":-12},{"s":"mlr","t":2082.5,"v":-28},{"s":"mlr","t":2083.5,"v":-36},{"s":"mlr","t":2084.5,"v":8},{"s":"mlr","t":2085.3,"v":62},{"s":"mlr","t":2086.5,"v":40},{"s":"mlr","t":2087.5,"v":38},{"s":"mlr","t":2088.5,"v":8},{"s":"mlr","t":2089.5,"v":15},{"s":"mlr","t":2090.3,"v":68},{"s":"mlr","t":2091.2,"v":-22},{"s":"mlr","t":2092,"v":10},{"s":"mlr","t":2093,"v":36},{"s":"mlr","t":2094,"v":30},{"s":"mlr","t":2095,"v":0},{"s":"mlr","t":2096,"v":28},{"s":"mlr","t":2097,"v":12},{"s":"mlr","t":2098,"v":18},{"s":"mlr","t":2099,"v":24},{"s":"mlr","t":2099.8,"v":12},
{"s":"rapid","t":2004.5,"v":-205},{"s":"rapid","t":2005.5,"v":-228},{"s":"rapid","t":2006.5,"v":-222},{"s":"rapid","t":2007.5,"v":-203},{"s":"rapid","t":2008.5,"v":-185},{"s":"rapid","t":2009.7,"v":-125},{"s":"rapid","t":2010.5,"v":-170},{"s":"rapid","t":2011.6,"v":-178},{"s":"rapid","t":2012.7,"v":-130},{"s":"rapid","t":2013.6,"v":-168},{"s":"rapid","t":2014.7,"v":-143},{"s":"rapid","t":2016,"v":-142},{"s":"rapid","t":2017,"v":-147},{"s":"rapid","t":2018,"v":-155},{"s":"rapid","t":2018.6,"v":-160}
],
"Nm": [
{"s":"truth","t":2004.2,"v":50},{"s":"truth","t":2004.5,"v":-105},{"s":"truth","t":2004.75,"v":-51},{"s":"truth","t":2005,"v":9},{"s":"truth","t":2005.25,"v":-92},{"s":"truth","t":2005.5,"v":-160},{"s":"truth","t":2005.75,"v":-38},{"s":"truth","t":2006,"v":57},{"s":"truth","t":2006.25,"v":-51},{"s":"truth","t":2006.5,"v":16},{"s":"truth","t":2006.8,"v":198},{"s":"truth","t":2007,"v":43},{"s":"truth","t":2007.25,"v":-78},{"s":"truth","t":2007.5,"v":-38},{"s":"truth","t":2007.75,"v":-105},{"s":"truth","t":2008,"v":-24},{"s":"truth","t":2008.25,"v":16},{"s":"truth","t":2008.5,"v":-51},{"s":"truth","t":2008.75,"v":23},{"s":"truth","t":2009,"v":-65},{"s":"truth","t":2009.25,"v":-11},{"s":"truth","t":2009.5,"v":-51},{"s":"truth","t":2009.75,"v":50},{"s":"truth","t":2010,"v":-11},{"s":"truth","t":2010.25,"v":84},{"s":"truth","t":2010.5,"v":-51},{"s":"truth","t":2010.75,"v":138},{"s":"truth","t":2011,"v":-11},{"s":"truth","t":2011.25,"v":57},{"s":"truth","t":2011.5,"v":97},{"s":"truth","t":2011.75,"v":-38},{"s":"truth","t":2012,"v":111},{"s":"truth","t":2012.25,"v":-51},{"s":"truth","t":2012.5,"v":30},{"s":"truth","t":2012.75,"v":97},{"s":"truth","t":2013,"v":-24},{"s":"truth","t":2013.25,"v":70},{"s":"truth","t":2013.5,"v":43},{"s":"truth","t":2013.75,"v":-11},{"s":"truth","t":2013.9,"v":199},{"s":"truth","t":2014.05,"v":16},{"s":"truth","t":2014.25,"v":-92},{"s":"truth","t":2014.5,"v":30},{"s":"truth","t":2014.75,"v":97},{"s":"truth","t":2015,"v":-51},{"s":"truth","t":2015.25,"v":-105},{"s":"truth","t":2015.5,"v":-78},{"s":"truth","t":2015.75,"v":30},{"s":"truth","t":2016,"v":-105},{"s":"truth","t":2016.25,"v":-24},{"s":"truth","t":2016.5,"v":-78},{"s":"truth","t":2016.75,"v":43},{"s":"truth","t":2017,"v":64},{"s":"truth","t":2017.25,"v":-78},{"s":"truth","t":2017.5,"v":-38},{"s":"truth","t":2017.75,"v":-112},{"s":"truth","t":2018,"v":-132},{"s":"truth","t":2018.25,"v":16},{"s":"truth","t":2018.5,"v":-78},{"s":"truth","t":2018.7,"v":-51},
{"s":"obs","t":2004.25,"v":-173},{"s":"obs","t":2004.4,"v":-200},{"s":"obs","t":2004.5,"v":-240},{"s":"obs","t":2004.75,"v":-330},{"s":"obs","t":2005,"v":-213},{"s":"obs","t":2005.25,"v":-247},{"s":"obs","t":2005.5,"v":-295},{"s":"obs","t":2005.75,"v":-240},{"s":"obs","t":2006,"v":-328},{"s":"obs","t":2006.25,"v":-200},{"s":"obs","t":2006.5,"v":-132},{"s":"obs","t":2006.75,"v":-240},{"s":"obs","t":2007,"v":-335},{"s":"obs","t":2007.25,"v":-213},{"s":"obs","t":2007.5,"v":-119},{"s":"obs","t":2007.75,"v":-213},{"s":"obs","t":2008,"v":-146},{"s":"obs","t":2008.25,"v":-281},{"s":"obs","t":2008.5,"v":-173},{"s":"obs","t":2008.75,"v":-119},{"s":"obs","t":2009,"v":-281},{"s":"obs","t":2009.25,"v":-159},{"s":"obs","t":2009.5,"v":-213},{"s":"obs","t":2009.75,"v":-92},{"s":"obs","t":2010,"v":16},{"s":"obs","t":2010.25,"v":-159},{"s":"obs","t":2010.5,"v":-213},{"s":"obs","t":2010.75,"v":-105},{"s":"obs","t":2011,"v":-240},{"s":"obs","t":2011.25,"v":-159},{"s":"obs","t":2011.5,"v":-92},{"s":"obs","t":2011.75,"v":-254},{"s":"obs","t":2012,"v":-119},{"s":"obs","t":2012.25,"v":-200},{"s":"obs","t":2012.5,"v":-105},{"s":"obs","t":2012.75,"v":-173},{"s":"obs","t":2013,"v":-78},{"s":"obs","t":2013.25,"v":-186},{"s":"obs","t":2013.5,"v":-132},{"s":"obs","t":2013.75,"v":-200},{"s":"obs","t":2014,"v":-159},{"s":"obs","t":2014.25,"v":-78},{"s":"obs","t":2014.5,"v":-159},{"s":"obs","t":2014.75,"v":-65},{"s":"obs","t":2015,"v":-132},{"s":"obs","t":2015.25,"v":-51},{"s":"obs","t":2015.5,"v":-159},{"s":"obs","t":2015.75,"v":-105},{"s":"obs","t":2016,"v":-186},{"s":"obs","t":2016.25,"v":-92},{"s":"obs","t":2016.5,"v":-132},{"s":"obs","t":2016.75,"v":-78},{"s":"obs","t":2017,"v":-146},{"s":"obs","t":2017.25,"v":-78},{"s":"obs","t":2017.5,"v":-105},{"s":"obs","t":2017.75,"v":-159},{"s":"obs","t":2018,"v":-260},{"s":"obs","t":2018.25,"v":-11},{"s":"obs","t":2018.5,"v":-186},{"s":"obs","t":2018.7,"v":-119}
],
"Rm": [
{"s":"truth","t":2004.2,"v":40},{"s":"truth","t":2004.5,"v":-30},{"s":"truth","t":2004.75,"v":10},{"s":"truth","t":2005,"v":-20},{"s":"truth","t":2005.25,"v":20},{"s":"truth","t":2005.5,"v":-95},{"s":"truth","t":2005.75,"v":0},{"s":"truth","t":2006,"v":40},{"s":"truth","t":2006.25,"v":-10},{"s":"truth","t":2006.5,"v":30},{"s":"truth","t":2006.8,"v":95},{"s":"truth","t":2007,"v":10},{"s":"truth","t":2007.25,"v":-40},{"s":"truth","t":2007.5,"v":20},{"s":"truth","t":2007.75,"v":-20},{"s":"truth","t":2008,"v":30},{"s":"truth","t":2008.25,"v":-30},{"s":"truth","t":2008.5,"v":10},{"s":"truth","t":2008.75,"v":-10},{"s":"truth","t":2009,"v":-40},{"s":"truth","t":2009.25,"v":20},{"s":"truth","t":2009.5,"v":-20},{"s":"truth","t":2009.75,"v":40},{"s":"truth","t":2010,"v":50},{"s":"truth","t":2010.25,"v":-20},{"s":"truth","t":2010.5,"v":45},{"s":"truth","t":2010.75,"v":35},{"s":"truth","t":2011,"v":-30},{"s":"truth","t":2011.25,"v":40},{"s":"truth","t":2011.5,"v":10},{"s":"truth","t":2011.75,"v":45},{"s":"truth","t":2012,"v":-20},{"s":"truth","t":2012.25,"v":30},{"s":"truth","t":2012.5,"v":50},{"s":"truth","t":2012.75,"v":10},{"s":"truth","t":2013,"v":40},{"s":"truth","t":2013.25,"v":-20},{"s":"truth","t":2013.5,"v":40},{"s":"truth","t":2013.75,"v":10},{"s":"truth","t":2013.9,"v":150},{"s":"truth","t":2014.05,"v":20},{"s":"truth","t":2014.25,"v":-30},{"s":"truth","t":2014.5,"v":10},{"s":"truth","t":2014.75,"v":40},{"s":"truth","t":2015,"v":-70},{"s":"truth","t":2015.25,"v":0},{"s":"truth","t":2015.5,"v":-40},{"s":"truth","t":2015.75,"v":20},{"s":"truth","t":2016,"v":-30},{"s":"truth","t":2016.1,"v":-100},{"s":"truth","t":2016.25,"v":10},{"s":"truth","t":2016.5,"v":-40},{"s":"truth","t":2016.75,"v":0},{"s":"truth","t":2017,"v":-20},{"s":"truth","t":2017.25,"v":-60},{"s":"truth","t":2017.5,"v":-30},{"s":"truth","t":2017.75,"v":-50},{"s":"truth","t":2018,"v":-100},{"s":"truth","t":2018.25,"v":0},{"s":"truth","t":2018.5,"v":-50},{"s":"truth","t":2018.7,"v":-10},
{"s":"obs","t":2004.25,"v":-10},{"s":"obs","t":2004.5,"v":-30},{"s":"obs","t":2004.75,"v":10},{"s":"obs","t":2005,"v":-30},{"s":"obs","t":2005.25,"v":-20},{"s":"obs","t":2005.5,"v":10},{"s":"obs","t":2005.75,"v":-40},{"s":"obs","t":2006,"v":-50},{"s":"obs","t":2006.25,"v":-20},{"s":"obs","t":2006.5,"v":-10},{"s":"obs","t":2006.75,"v":-40},{"s":"obs","t":2007,"v":-50},{"s":"obs","t":2007.25,"v":-10},{"s":"obs","t":2007.5,"v":-30},{"s":"obs","t":2007.75,"v":0},{"s":"obs","t":2008,"v":-40},{"s":"obs","t":2008.25,"v":-10},{"s":"obs","t":2008.5,"v":20},{"s":"obs","t":2008.75,"v":-30},{"s":"obs","t":2009,"v":-10},{"s":"obs","t":2009.25,"v":10},{"s":"obs","t":2009.5,"v":0},{"s":"obs","t":2009.75,"v":30},{"s":"obs","t":2010,"v":50},{"s":"obs","t":2010.25,"v":10},{"s":"obs","t":2010.5,"v":-20},{"s":"obs","t":2010.75,"v":20},{"s":"obs","t":2011,"v":0},{"s":"obs","t":2011.25,"v":-20},{"s":"obs","t":2011.5,"v":10},{"s":"obs","t":2011.75,"v":-40},{"s":"obs","t":2012,"v":0},{"s":"obs","t":2012.25,"v":20},{"s":"obs","t":2012.5,"v":-10},{"s":"obs","t":2012.75,"v":40},{"s":"obs","t":2013,"v":0},{"s":"obs","t":2013.25,"v":30},{"s":"obs","t":2013.5,"v":10},{"s":"obs","t":2013.75,"v":-20},{"s":"obs","t":2014,"v":0},{"s":"obs","t":2014.25,"v":20},{"s":"obs","t":2014.5,"v":0},{"s":"obs","t":2014.75,"v":30},{"s":"obs","t":2015,"v":10},{"s":"obs","t":2015.25,"v":20},{"s":"obs","t":2015.5,"v":40},{"s":"obs","t":2015.75,"v":0},{"s":"obs","t":2016,"v":30},{"s":"obs","t":2016.25,"v":10},{"s":"obs","t":2016.5,"v":30},{"s":"obs","t":2016.75,"v":20},{"s":"obs","t":2017,"v":40},{"s":"obs","t":2017.25,"v":10},{"s":"obs","t":2017.5,"v":30},{"s":"obs","t":2017.75,"v":0},{"s":"obs","t":2018,"v":40},{"s":"obs","t":2018.25,"v":10},{"s":"obs","t":2018.5,"v":20},{"s":"obs","t":2018.7,"v":30}
],
"Pm": [
{"s":"truth","t":2004.2,"v":-9},{"s":"truth","t":2004.4,"v":-100},{"s":"truth","t":2004.6,"v":-60},{"s":"truth","t":2004.8,"v":-130},{"s":"truth","t":2005,"v":-40},{"s":"truth","t":2005.25,"v":-110},{"s":"truth","t":2005.5,"v":-60},{"s":"truth","t":2005.75,"v":-20},{"s":"truth","t":2006,"v":-80},{"s":"truth","t":2006.25,"v":-40},{"s":"truth","t":2006.5,"v":-60},{"s":"truth","t":2006.75,"v":20},{"s":"truth","t":2006.95,"v":90},{"s":"truth","t":2007.1,"v":-30},{"s":"truth","t":2007.25,"v":-160},{"s":"truth","t":2007.5,"v":-50},{"s":"truth","t":2007.75,"v":-20},{"s":"truth","t":2008,"v":-90},{"s":"truth","t":2008.25,"v":-40},{"s":"truth","t":2008.5,"v":-70},{"s":"truth","t":2008.75,"v":-20},{"s":"truth","t":2009,"v":-80},{"s":"truth","t":2009.25,"v":-40},{"s":"truth","t":2009.5,"v":-90},{"s":"truth","t":2009.75,"v":-10},{"s":"truth","t":2010,"v":-40},{"s":"truth","t":2010.25,"v":-150},{"s":"truth","t":2010.5,"v":50},{"s":"truth","t":2010.75,"v":-20},{"s":"truth","t":2011,"v":-80},{"s":"truth","t":2011.25,"v":30},{"s":"truth","t":2011.5,"v":-60},{"s":"truth","t":2011.75,"v":40},{"s":"truth","t":2012,"v":-100},{"s":"truth","t":2012.25,"v":-20},{"s":"truth","t":2012.5,"v":-60},{"s":"truth","t":2012.75,"v":20},{"s":"truth","t":2013,"v":-80},{"s":"truth","t":2013.25,"v":10},{"s":"truth","t":2013.5,"v":-40},{"s":"truth","t":2013.75,"v":-10},{"s":"truth","t":2013.9,"v":140},{"s":"truth","t":2014.1,"v":-50},{"s":"truth","t":2014.25,"v":-110},{"s":"truth","t":2014.5,"v":-70},{"s":"truth","t":2014.75,"v":20},{"s":"truth","t":2015,"v":-80},{"s":"truth","t":2015.25,"v":-190},{"s":"truth","t":2015.5,"v":-60},{"s":"truth","t":2015.75,"v":-120},{"s":"truth","t":2016,"v":-40},{"s":"truth","t":2016.25,"v":-90},{"s":"truth","t":2016.5,"v":-10},{"s":"truth","t":2016.75,"v":-100},{"s":"truth","t":2017,"v":-40},{"s":"truth","t":2017.25,"v":-80},{"s":"truth","t":2017.5,"v":-110},{"s":"truth","t":2017.75,"v":-60},{"s":"truth","t":2018,"v":-190},{"s":"truth","t":2018.25,"v":-40},{"s":"truth","t":2018.5,"v":-90},{"s":"truth","t":2018.7,"v":-30},
{"s":"obs","t":2004.2,"v":-176},{"s":"obs","t":2004.65,"v":-289},{"s":"obs","t":2005,"v":-169},{"s":"obs","t":2005.2,"v":-116},{"s":"obs","t":2005.55,"v":-243},{"s":"obs","t":2005.9,"v":-276},{"s":"obs","t":2006.2,"v":-143},{"s":"obs","t":2006.5,"v":-196},{"s":"obs","t":2006.95,"v":-276},{"s":"obs","t":2007.35,"v":-183},{"s":"obs","t":2007.8,"v":-223},{"s":"obs","t":2008.3,"v":-143},{"s":"obs","t":2008.7,"v":-236},{"s":"obs","t":2009,"v":-249},{"s":"obs","t":2009.45,"v":-156},{"s":"obs","t":2009.9,"v":-63},{"s":"obs","t":2010.2,"v":-183},{"s":"obs","t":2010.55,"v":-143},{"s":"obs","t":2010.85,"v":-223},{"s":"obs","t":2011.4,"v":-143},{"s":"obs","t":2011.9,"v":-223},{"s":"obs","t":2012.25,"v":-129},{"s":"obs","t":2012.65,"v":-156},{"s":"obs","t":2013.05,"v":-63},{"s":"obs","t":2013.5,"v":-169},{"s":"obs","t":2013.9,"v":-129},{"s":"obs","t":2014.3,"v":-169},{"s":"obs","t":2014.75,"v":-129},{"s":"obs","t":2015.15,"v":-143},{"s":"obs","t":2015.6,"v":-103},{"s":"obs","t":2016,"v":-169},{"s":"obs","t":2016.4,"v":-116},{"s":"obs","t":2016.9,"v":-156},{"s":"obs","t":2017.25,"v":-129},{"s":"obs","t":2017.65,"v":-156},{"s":"obs","t":2018,"v":-243},{"s":"obs","t":2018.2,"v":-129},{"s":"obs","t":2018.45,"v":-169},{"s":"obs","t":2018.7,"v":-150}
]
},
"concat": [
{
 "width": 794, "height": 162,
 "layer": [
  {"data": {"name": "N"}, "transform": [{"filter": "datum.s === 'truth'"}], "mark": {"type": "area", "color": "#e6e6e6", "clip": true},
   "encoding": {"x": {"field": "t", "type": "quantitative", "title": null, "scale": {"domain": [1980.2, 2099.8], "nice": false, "zero": false}, "axis": {"values": [1990,2000,2010,2020,2030,2040,2050,2060,2070,2080,2090], "format": "d"}},
    "y": {"field": "v", "type": "quantitative", "title": null, "scale": {"domain": [-400, 200], "nice": false}, "axis": {"values": [-400,-200,0,200]}}, "y2": {"datum": 0}}},
  {"data": {"values": [{"z": 0}]}, "mark": {"type": "rule", "color": "#555555", "strokeWidth": 1}, "encoding": {"y": {"field": "z", "type": "quantitative", "title": null}}},
  {"data": {"name": "N"}, "transform": [{"filter": "datum.s === 'mlr'"}], "mark": {"type": "line", "strokeWidth": 3.5, "clip": true},
   "encoding": {"x": {"field": "t", "type": "quantitative", "title": null}, "y": {"field": "v", "type": "quantitative", "title": null},
    "color": {"field": "s", "type": "nominal", "scale": {"domain": ["truth","mlr","rapid"], "range": ["#4682B4","#4682B4","#000000"]},
      "legend": {"orient": "none", "legendX": 13, "legendY": -53, "title": null, "direction": "vertical", "symbolType": "M-1.1,0H2.4", "symbolSize": 400, "symbolStrokeWidth": 4, "labelFontSize": 22, "labelColor": "#000000", "labelLimit": 400, "labelOffset": 16, "rowPadding": 2, "padding": 6, "fillColor": "white", "strokeColor": "#262626", "cornerRadius": 0,
       "labelExpr": "datum.label === 'truth' ? \"NEMO-MEDUSA 'model truth'\" : datum.label === 'mlr' ? 'NEMO-MEDUSA MLR-like' : 'RAPID-MLR'"}},
    "strokeDash": {"field": "s", "type": "nominal", "scale": {"domain": ["truth","mlr","rapid"], "range": [[1,0],[4,4],[1,0]]},
      "legend": {"orient": "none", "legendX": 13, "legendY": -53, "title": null, "direction": "vertical", "symbolType": "M-1.1,0H2.4", "symbolSize": 400, "symbolStrokeWidth": 4, "labelFontSize": 22, "labelColor": "#000000", "labelLimit": 400, "labelOffset": 16, "rowPadding": 2, "padding": 6, "fillColor": "white", "strokeColor": "#262626", "cornerRadius": 0,
       "labelExpr": "datum.label === 'truth' ? \"NEMO-MEDUSA 'model truth'\" : datum.label === 'mlr' ? 'NEMO-MEDUSA MLR-like' : 'RAPID-MLR'"}}}},
  {"data": {"name": "N"}, "transform": [{"filter": "datum.s === 'truth'"}], "mark": {"type": "line", "strokeWidth": 4.5, "clip": true},
   "encoding": {"x": {"field": "t", "type": "quantitative", "title": null}, "y": {"field": "v", "type": "quantitative", "title": null},
    "color": {"field": "s", "type": "nominal"}, "strokeDash": {"field": "s", "type": "nominal"}}},
  {"data": {"name": "N"}, "transform": [{"filter": "datum.s === 'rapid'"}], "mark": {"type": "line", "strokeWidth": 4.5, "clip": true},
   "encoding": {"x": {"field": "t", "type": "quantitative", "title": null}, "y": {"field": "v", "type": "quantitative", "title": null},
    "color": {"field": "s", "type": "nominal"}, "strokeDash": {"field": "s", "type": "nominal"}}},
  {"data": {"values": [{"t": 2096.6, "v": -310, "label": "Nitrate transport (kmol s⁻¹)"}]}, "mark": {"type": "text", "align": "right", "baseline": "middle", "fontSize": 24, "fontWeight": "bold", "color": "#000000"},
   "encoding": {"x": {"field": "t", "type": "quantitative", "title": null}, "y": {"field": "v", "type": "quantitative", "title": null}, "text": {"field": "label"}}}
 ]
},
{
 "width": 343, "height": 148,
 "title": {"text": "Zoom observational period", "fontSize": 23, "fontWeight": "normal", "color": "#000000", "offset": -14},
 "layer": [
  {"data": {"values": [{"z": 0}]}, "mark": {"type": "rule", "color": "#000000", "strokeWidth": 1.2},
   "encoding": {"y": {"field": "z", "type": "quantitative", "title": null, "scale": {"domain": [-400, 200], "nice": false}, "axis": {"values": [-400,-200,0,200]}}}},
  {"data": {"name": "Nm"}, "transform": [{"filter": "datum.s === 'truth'"}], "mark": {"type": "line", "strokeWidth": 1.2, "color": "#5b97cc", "clip": true},
   "encoding": {"x": {"field": "t", "type": "quantitative", "title": null, "scale": {"domain": [2004.2, 2018.7], "nice": false, "zero": false}, "axis": {"values": [2006,2008,2010,2012,2014,2016,2018], "format": "d", "labelAngle": -45, "labelOverlap": false}},
    "y": {"field": "v", "type": "quantitative", "title": null}}},
  {"data": {"name": "Nm"}, "transform": [{"filter": "datum.s === 'obs'"}], "mark": {"type": "line", "strokeWidth": 1, "color": "#111111", "clip": true},
   "encoding": {"x": {"field": "t", "type": "quantitative", "title": null}, "y": {"field": "v", "type": "quantitative", "title": null}}},
  {"data": {"name": "N"}, "transform": [{"filter": "datum.s === 'mlr' && datum.t > 2002 && datum.t < 2021"}], "mark": {"type": "line", "strokeWidth": 3.5, "color": "#4682B4", "strokeDash": [4,4], "clip": true},
   "encoding": {"x": {"field": "t", "type": "quantitative", "title": null}, "y": {"field": "v", "type": "quantitative", "title": null}}},
  {"data": {"name": "N"}, "transform": [{"filter": "datum.s === 'truth' && datum.t > 2002 && datum.t < 2021"}], "mark": {"type": "line", "strokeWidth": 4.5, "color": "#4682B4", "clip": true},
   "encoding": {"x": {"field": "t", "type": "quantitative", "title": null}, "y": {"field": "v", "type": "quantitative", "title": null}}},
  {"data": {"name": "N"}, "transform": [{"filter": "datum.s === 'rapid'"}], "mark": {"type": "line", "strokeWidth": 4.5, "color": "#000000", "clip": true},
   "encoding": {"x": {"field": "t", "type": "quantitative", "title": null}, "y": {"field": "v", "type": "quantitative", "title": null}}}
 ]
},
{
 "width": 794, "height": 162,
 "layer": [
  {"data": {"name": "R"}, "transform": [{"filter": "datum.s === 'mlr'"}], "mark": {"type": "area", "color": "#cf86cf", "clip": true},
   "encoding": {"x": {"field": "t", "type": "quantitative", "title": null, "scale": {"domain": [1980.2, 2099.8], "nice": false, "zero": false}, "axis": {"values": [1990,2000,2010,2020,2030,2040,2050,2060,2070,2080,2090], "format": "d"}},
    "y": {"field": "v", "type": "quantitative", "title": null, "scale": {"domain": [-400, 200], "nice": false}, "axis": {"values": [-400,-200,0,200]}}, "y2": {"datum": 0}}},
  {"data": {"values": [{"z": 0}]}, "mark": {"type": "rule", "color": "#6e2a6e", "strokeWidth": 1}, "encoding": {"y": {"field": "z", "type": "quantitative", "title": null}}},
  {"data": {"name": "R"}, "transform": [{"filter": "datum.s === 'mlr'"}], "mark": {"type": "line", "strokeWidth": 3.5, "color": "#4682B4", "strokeDash": [4,4], "clip": true},
   "encoding": {"x": {"field": "t", "type": "quantitative", "title": null}, "y": {"field": "v", "type": "quantitative", "title": null}}},
  {"data": {"name": "R"}, "transform": [{"filter": "datum.s === 'truth'"}], "mark": {"type": "line", "strokeWidth": 4.5, "color": "#4682B4", "clip": true},
   "encoding": {"x": {"field": "t", "type": "quantitative", "title": null}, "y": {"field": "v", "type": "quantitative", "title": null}}},
  {"data": {"name": "R"}, "transform": [{"filter": "datum.s === 'rapid'"}], "mark": {"type": "line", "strokeWidth": 4.5, "color": "#800080", "clip": true},
   "encoding": {"x": {"field": "t", "type": "quantitative", "title": null}, "y": {"field": "v", "type": "quantitative", "title": null}}},
  {"data": {"values": [{"t": 2096.6, "v": -310, "label": "Remineralized nitrate transport (kmol s⁻¹)"}]}, "mark": {"type": "text", "align": "right", "baseline": "middle", "fontSize": 24, "fontWeight": "bold", "color": "#8a2d96"},
   "encoding": {"x": {"field": "t", "type": "quantitative", "title": null}, "y": {"field": "v", "type": "quantitative", "title": null}, "text": {"field": "label"}}}
 ]
},
{
 "width": 343, "height": 148,
 "layer": [
  {"data": {"values": [{"z": 0}]}, "mark": {"type": "rule", "color": "#000000", "strokeWidth": 1.2},
   "encoding": {"y": {"field": "z", "type": "quantitative", "title": null, "scale": {"domain": [-400, 200], "nice": false}, "axis": {"values": [-400,-200,0,200]}}}},
  {"data": {"name": "Rm"}, "transform": [{"filter": "datum.s === 'truth'"}], "mark": {"type": "line", "strokeWidth": 1.2, "color": "#5b97cc", "clip": true},
   "encoding": {"x": {"field": "t", "type": "quantitative", "title": null, "scale": {"domain": [2004.2, 2018.7], "nice": false, "zero": false}, "axis": {"values": [2006,2008,2010,2012,2014,2016,2018], "format": "d", "labelAngle": -45, "labelOverlap": false}},
    "y": {"field": "v", "type": "quantitative", "title": null}}},
  {"data": {"name": "Rm"}, "transform": [{"filter": "datum.s === 'obs'"}], "mark": {"type": "line", "strokeWidth": 1, "color": "#111111", "clip": true},
   "encoding": {"x": {"field": "t", "type": "quantitative", "title": null}, "y": {"field": "v", "type": "quantitative", "title": null}}},
  {"data": {"name": "R"}, "transform": [{"filter": "datum.s === 'mlr' && datum.t > 2002 && datum.t < 2021"}], "mark": {"type": "line", "strokeWidth": 3.5, "color": "#4682B4", "strokeDash": [4,4], "clip": true},
   "encoding": {"x": {"field": "t", "type": "quantitative", "title": null}, "y": {"field": "v", "type": "quantitative", "title": null}}},
  {"data": {"name": "R"}, "transform": [{"filter": "datum.s === 'truth' && datum.t > 2002 && datum.t < 2021"}], "mark": {"type": "line", "strokeWidth": 4.5, "color": "#4682B4", "clip": true},
   "encoding": {"x": {"field": "t", "type": "quantitative", "title": null}, "y": {"field": "v", "type": "quantitative", "title": null}}},
  {"data": {"name": "R"}, "transform": [{"filter": "datum.s === 'rapid'"}], "mark": {"type": "line", "strokeWidth": 4.5, "color": "#800080", "clip": true},
   "encoding": {"x": {"field": "t", "type": "quantitative", "title": null}, "y": {"field": "v", "type": "quantitative", "title": null}}}
 ]
},
{
 "width": 794, "height": 162,
 "layer": [
  {"data": {"name": "P"}, "transform": [{"filter": "datum.s === 'truth'"}], "mark": {"type": "area", "color": "#f9d0ab", "clip": true},
   "encoding": {"x": {"field": "t", "type": "quantitative", "title": null, "scale": {"domain": [1980.2, 2099.8], "nice": false, "zero": false}, "axis": {"values": [1990,2000,2010,2020,2030,2040,2050,2060,2070,2080,2090], "format": "d"}},
    "y": {"field": "v", "type": "quantitative", "title": null, "scale": {"domain": [-400, 200], "nice": false}, "axis": {"values": [-400,-200,0,200]}}, "y2": {"datum": 0}}},
  {"data": {"values": [{"z": 0}]}, "mark": {"type": "rule", "color": "#a0704a", "strokeWidth": 1}, "encoding": {"y": {"field": "z", "type": "quantitative", "title": null}}},
  {"data": {"name": "P"}, "transform": [{"filter": "datum.s === 'mlr'"}], "mark": {"type": "line", "strokeWidth": 3.5, "color": "#4682B4", "strokeDash": [4,4], "clip": true},
   "encoding": {"x": {"field": "t", "type": "quantitative", "title": null}, "y": {"field": "v", "type": "quantitative", "title": null}}},
  {"data": {"name": "P"}, "transform": [{"filter": "datum.s === 'truth'"}], "mark": {"type": "line", "strokeWidth": 4.5, "color": "#4682B4", "clip": true},
   "encoding": {"x": {"field": "t", "type": "quantitative", "title": null}, "y": {"field": "v", "type": "quantitative", "title": null}}},
  {"data": {"name": "P"}, "transform": [{"filter": "datum.s === 'rapid'"}], "mark": {"type": "line", "strokeWidth": 4.5, "color": "#f4a460", "clip": true},
   "encoding": {"x": {"field": "t", "type": "quantitative", "title": null}, "y": {"field": "v", "type": "quantitative", "title": null}}},
  {"data": {"values": [{"t": 2096.6, "v": -310, "label": "Preformed nitrate transport (kmol s⁻¹)"}]}, "mark": {"type": "text", "align": "right", "baseline": "middle", "fontSize": 24, "fontWeight": "bold", "color": "#e8850f"},
   "encoding": {"x": {"field": "t", "type": "quantitative", "title": null}, "y": {"field": "v", "type": "quantitative", "title": null}, "text": {"field": "label"}}}
 ]
},
{
 "width": 343, "height": 148,
 "layer": [
  {"data": {"values": [{"z": 0}]}, "mark": {"type": "rule", "color": "#000000", "strokeWidth": 1.2},
   "encoding": {"y": {"field": "z", "type": "quantitative", "title": null, "scale": {"domain": [-400, 200], "nice": false}, "axis": {"values": [-400,-200,0,200]}}}},
  {"data": {"name": "Pm"}, "transform": [{"filter": "datum.s === 'truth'"}], "mark": {"type": "line", "strokeWidth": 1.2, "color": "#5b97cc", "clip": true},
   "encoding": {"x": {"field": "t", "type": "quantitative", "title": null, "scale": {"domain": [2004.2, 2018.7], "nice": false, "zero": false}, "axis": {"values": [2006,2008,2010,2012,2014,2016,2018], "format": "d", "labelAngle": -45, "labelOverlap": false}},
    "y": {"field": "v", "type": "quantitative", "title": null}}},
  {"data": {"name": "Pm"}, "transform": [{"filter": "datum.s === 'obs'"}], "mark": {"type": "line", "strokeWidth": 1.1, "color": "#f4a460", "clip": true},
   "encoding": {"x": {"field": "t", "type": "quantitative", "title": null}, "y": {"field": "v", "type": "quantitative", "title": null}}},
  {"data": {"name": "P"}, "transform": [{"filter": "datum.s === 'mlr' && datum.t > 2002 && datum.t < 2021"}], "mark": {"type": "line", "strokeWidth": 3.5, "color": "#4682B4", "strokeDash": [4,4], "clip": true},
   "encoding": {"x": {"field": "t", "type": "quantitative", "title": null}, "y": {"field": "v", "type": "quantitative", "title": null}}},
  {"data": {"name": "P"}, "transform": [{"filter": "datum.s === 'truth' && datum.t > 2002 && datum.t < 2021"}], "mark": {"type": "line", "strokeWidth": 4.5, "color": "#4682B4", "clip": true},
   "encoding": {"x": {"field": "t", "type": "quantitative", "title": null}, "y": {"field": "v", "type": "quantitative", "title": null}}},
  {"data": {"name": "P"}, "transform": [{"filter": "datum.s === 'rapid'"}], "mark": {"type": "line", "strokeWidth": 4.5, "color": "#f4a460", "clip": true},
   "encoding": {"x": {"field": "t", "type": "quantitative", "title": null}, "y": {"field": "v", "type": "quantitative", "title": null}}}
 ]
}
],
"columns": 2,
"bounds": "flush",
"spacing": {"row": 64, "column": 58},
"resolve": {"scale": {"color": "independent", "strokeDash": "independent"}}
}
